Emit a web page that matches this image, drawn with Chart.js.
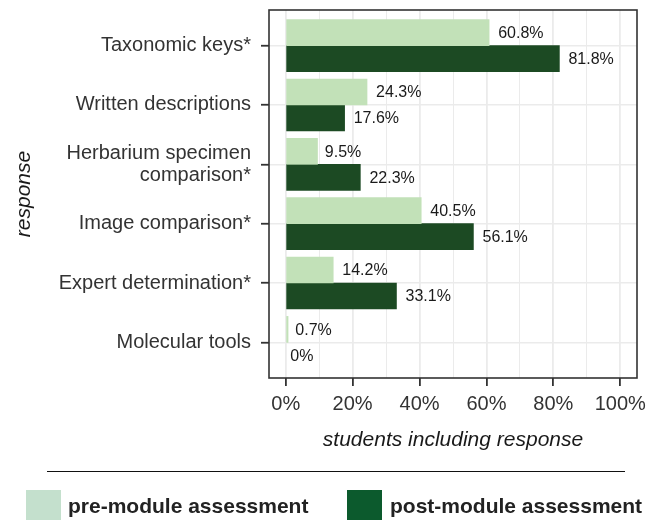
<!DOCTYPE html>
<html>
<head>
<meta charset="utf-8">
<script src="https://cdn.jsdelivr.net/npm/chart.js@4.4.1/dist/chart.umd.min.js"></script>
<style>
  body { margin: 0; background: #fff; }
  #wrap { position: relative; width: 661px; height: 520px; overflow: hidden; }
  #chart { display: block; }
  .rule { position: absolute; left: 47px; top: 471px; width: 578px; height: 0; border-top: 1.6px solid #111; }
  .key { position: absolute; top: 490px; width: 35px; height: 40px; }
  .lbl { position: absolute; top: 495px; font: bold 21px "Liberation Sans", Arial, sans-serif; line-height: 21px; color: #222; white-space: nowrap; }
</style>
</head>
<body>
<div id="wrap">
  <canvas id="chart" width="661" height="520"></canvas>
  <div class="rule"></div>
  <div class="key" style="left:26px;background:#c4e0cd"></div>
  <div class="lbl" style="left:68px">pre-module assessment</div>
  <div class="key" style="left:347px;background:#0c5a2d"></div>
  <div class="lbl" style="left:390px">post-module assessment</div>
</div>
<script>
const categories = [
  "Taxonomic keys*",
  "Written descriptions",
  ["Herbarium specimen", "comparison*"],
  "Image comparison*",
  "Expert determination*",
  "Molecular tools",
];
const preModule = [60.8, 24.3, 9.5, 40.5, 14.2, 0.7];
const postModule = [81.8, 17.6, 22.3, 56.1, 33.1, 0];
const xTicks = [0, 10, 20, 30, 40, 50, 60, 70, 80, 90, 100];

const FONT = '"Liberation Sans", Arial, sans-serif';

// pas de trait pour une barre a 0
const fillFor = (color) => (c) => (c.raw && c.raw.x === 0 ? "rgba(0,0,0,0)" : color);

// etiquettes de valeur a droite des barres (decalage = 20% de la largeur du texte)
const valueLabels = {
  id: "valueLabels",
  afterDatasetsDraw(chart) {
    const ctx = chart.ctx;
    ctx.save();
    ctx.font = "16px " + FONT;
    ctx.fillStyle = "#1a1a1a";
    ctx.textBaseline = "middle";
    ctx.textAlign = "left";
    chart.data.datasets.forEach((ds, di) => {
      chart.getDatasetMeta(di).data.forEach((bar, i) => {
        const v = ds.data[i].x;
        const txt = v === 0 ? "0%" : v.toFixed(1) + "%";
        const w = ctx.measureText(txt).width;
        ctx.fillText(txt, bar.x + 0.2 * w, bar.y + 1);
      });
    });
    ctx.restore();
  },
};

// cadre du panneau
const panelBorder = {
  id: "panelBorder",
  afterDraw(chart) {
    const { left, top, right, bottom } = chart.chartArea;
    const ctx = chart.ctx;
    ctx.save();
    ctx.strokeStyle = "#333";
    ctx.lineWidth = 1.6;
    ctx.strokeRect(left, top, right - left, bottom - top);
    ctx.restore();
  },
};

new Chart(document.getElementById("chart"), {
  type: "bar",
  data: {
    datasets: [
      {
        label: "pre-module assessment",
        data: preModule.map((v, i) => ({ x: v, y: i })),
        backgroundColor: fillFor("#c2e1b8"),
        borderWidth: 0,
        barThickness: 26,
      },
      {
        label: "post-module assessment",
        data: postModule.map((v, i) => ({ x: v, y: i })),
        backgroundColor: fillFor("#1c4a23"),
        borderWidth: 0,
        barThickness: 26,
      },
    ],
  },
  options: {
    indexAxis: "y",
    responsive: false,
    animation: false,
    layout: { padding: { top: 10, right: 24, bottom: 60, left: 0 } },
    plugins: {
      legend: { display: false },
      tooltip: { enabled: false },
    },
    scales: {
      x: {
        type: "linear",
        min: -5,
        max: 105,
        afterBuildTicks: (scale) => {
          scale.ticks = xTicks.map((v) => ({ value: v }));
        },
        afterFit: (scale) => {
          scale.height = 82;
          scale.paddingLeft = 0;
          scale.paddingRight = 0;
        },
        border: { display: false },
        grid: {
          color: "#ebebeb",
          lineWidth: (c) => (c.tick && c.tick.value % 20 === 0 ? 1.8 : 1),
          tickLength: 8,
          tickColor: (c) => (c.tick && c.tick.value % 20 === 0 ? "#333" : "rgba(0,0,0,0)"),
          tickWidth: 1.8,
        },
        ticks: {
          autoSkip: false,
          maxRotation: 0,
          padding: 6,
          color: "#333",
          font: { family: FONT, size: 20 },
          callback: (v) => (v % 20 === 0 ? v + "%" : ""),
        },
        title: {
          display: true,
          text: "students including response",
          color: "#1a1a1a",
          font: { family: FONT, size: 21, style: "italic" },
          padding: { top: 0, bottom: 7 },
        },
      },
      y: {
        type: "linear",
        reverse: true,
        offset: false,
        min: -0.6,
        max: 5.6,
        afterBuildTicks: (scale) => {
          scale.ticks = categories.map((c, i) => ({ value: i }));
        },
        afterFit: (scale) => {
          scale.width = 269;
          scale.paddingTop = 0;
          scale.paddingBottom = 0;
        },
        border: { display: false },
        grid: {
          offset: false,
          color: "#ebebeb",
          lineWidth: 1.5,
          tickLength: 8,
          tickColor: "#333",
          tickWidth: 1.8,
        },
        ticks: {
          autoSkip: false,
          padding: 10,
          color: "#333",
          font: { family: FONT, size: 20, lineHeight: 1.1 },
          callback: (v) => categories[v],
        },
        title: {
          display: true,
          text: "response",
          color: "#1a1a1a",
          font: { family: FONT, size: 21, style: "italic" },
          padding: { top: 12, bottom: 0 },
        },
      },
    },
  },
  plugins: [valueLabels, panelBorder],
});
</script>
</body>
</html>
